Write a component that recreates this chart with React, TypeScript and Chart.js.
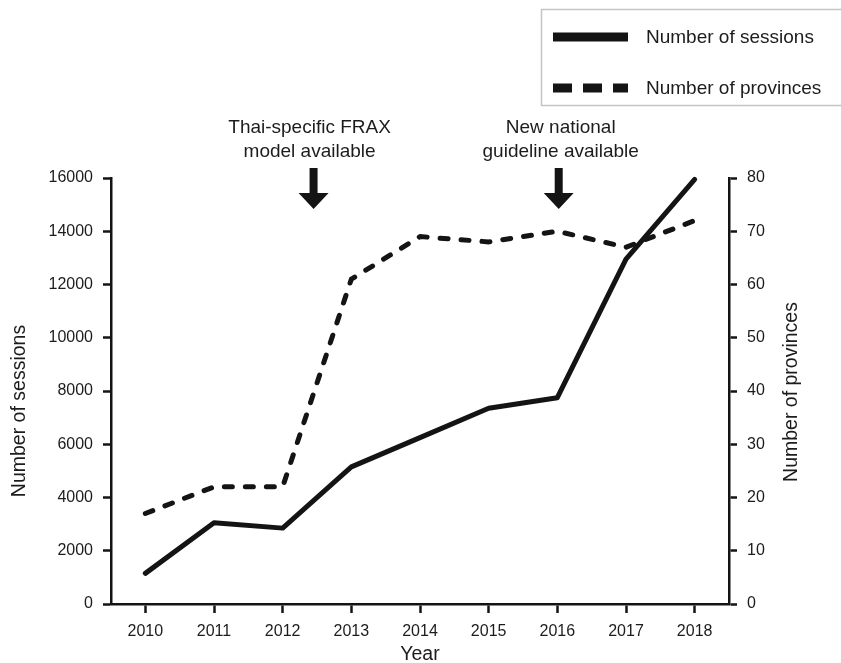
import React, { useEffect, useRef } from "react";
import { Chart, registerables } from "chart.js";

Chart.register(...registerables);

const years = ["2010", "2011", "2012", "2013", "2014", "2015", "2016", "2017", "2018"];
const sessions = [1150, 3050, 2850, 5150, 6250, 7350, 7750, 12950, 15950];
const provinces = [17, 22, 22, 61, 69, 68, 70, 67, 72];

const sessionsLabel = "Number of sessions";
const provincesLabel = "Number of provinces";
const xTitle = "Year";

// annotations: position along the category axis (index), text lines
const annotationPos = [2.45, 6.02];
const annotationText = [
  ["Thai-specific FRAX", "model available"],
  ["New national", "guideline available"],
];

const FONT = "'Liberation Sans', Arial, Helvetica, sans-serif";
const INK = "#141414";
const TEXT = "#1c1c1c";
const W = 841;
const H = 663;

const customPlugin = {
  id: "customDecor",
  afterDraw(chart: any) {
    const ctx = chart.ctx as CanvasRenderingContext2D;
    const x = chart.scales.x;
    const area = chart.chartArea;
    ctx.save();

    // Legend box
    ctx.strokeStyle = "#c4c4c4";
    ctx.lineWidth = 1.5;
    ctx.strokeRect(541.5, 9.5, 400, 96);
    const legendItems = [
      { label: sessionsLabel, dash: [] as number[], y: 37 },
      { label: provincesLabel, dash: [19, 11], y: 88 },
    ];
    legendItems.forEach((it) => {
      ctx.beginPath();
      ctx.setLineDash(it.dash);
      ctx.lineCap = "butt";
      ctx.strokeStyle = INK;
      ctx.lineWidth = 9;
      ctx.moveTo(553, it.y);
      ctx.lineTo(628, it.y);
      ctx.stroke();
      ctx.setLineDash([]);
      ctx.fillStyle = TEXT;
      ctx.font = `19px ${FONT}`;
      ctx.textAlign = "left";
      ctx.textBaseline = "middle";
      ctx.fillText(it.label, 646, it.y + 1);
    });

    // Annotations with arrows
    annotationPos.forEach((pos, i) => {
      const i0 = Math.floor(pos);
      const f = pos - i0;
      const px = x.getPixelForValue(i0) + f * (x.getPixelForValue(i0 + 1) - x.getPixelForValue(i0));
      ctx.fillStyle = TEXT;
      ctx.font = `19px ${FONT}`;
      ctx.textAlign = "center";
      ctx.textBaseline = "middle";
      annotationText[i].forEach((line, j) => {
        ctx.fillText(line, px + (i === 0 ? -4 : 2), 128 + j * 24);
      });
      ctx.fillStyle = INK;
      ctx.beginPath();
      ctx.moveTo(px - 4, 168);
      ctx.lineTo(px + 4, 168);
      ctx.lineTo(px + 4, 193);
      ctx.lineTo(px + 15, 193);
      ctx.lineTo(px, 209);
      ctx.lineTo(px - 15, 193);
      ctx.lineTo(px - 4, 193);
      ctx.closePath();
      ctx.fill();
    });

    // Axis titles
    ctx.fillStyle = TEXT;
    ctx.font = `19.5px ${FONT}`;
    ctx.textAlign = "center";
    ctx.textBaseline = "middle";
    ctx.fillText(xTitle, (area.left + area.right) / 2, 655);

    ctx.save();
    ctx.translate(20, 411);
    ctx.rotate(-Math.PI / 2);
    ctx.fillText(sessionsLabel, 0, 0);
    ctx.restore();

    ctx.save();
    ctx.translate(792, 392);
    ctx.rotate(-Math.PI / 2);
    ctx.fillText(provincesLabel, 0, 0);
    ctx.restore();

    ctx.restore();
  },
};

export default function App() {
  const ref = useRef<HTMLCanvasElement | null>(null);

  useEffect(() => {
    if (!ref.current) return;
    const axisColor = INK;
    const tickFont = { family: FONT, size: 16 };
    const plain = (v: any) => String(v);
    const chart = new Chart(ref.current, {
      type: "line",
      data: {
        labels: years,
        datasets: [
          {
            label: sessionsLabel,
            data: sessions,
            yAxisID: "y",
            borderColor: INK,
            borderWidth: 5,
            pointRadius: 0,
            tension: 0,
            borderCapStyle: "round",
            borderJoinStyle: "round",
            clip: false as any,
          },
          {
            label: provincesLabel,
            data: provinces,
            yAxisID: "y1",
            borderColor: INK,
            borderWidth: 5,
            borderDash: [8, 13],
            borderCapStyle: "round",
            borderJoinStyle: "round",
            pointRadius: 0,
            tension: 0,
            clip: false as any,
          },
        ],
      },
      options: {
        responsive: false,
        animation: false,
        devicePixelRatio: 1,
        layout: { padding: { top: 178, left: 0, right: 0, bottom: 0 } },
        plugins: {
          legend: { display: false },
          tooltip: { enabled: false },
          title: { display: false },
        },
        scales: {
          x: {
            type: "category",
            offset: true,
            grid: {
              display: true,
              drawOnChartArea: false,
              drawTicks: true,
              tickLength: 9,
              tickWidth: 2.5,
              tickColor: axisColor,
              offset: false,
            },
            border: { display: true, color: axisColor, width: 2.5 },
            ticks: { color: TEXT, font: tickFont, padding: 9, maxRotation: 0 },
            afterFit: (s: any) => {
              s.height = 59;
            },
          },
          y: {
            type: "linear",
            position: "left",
            min: 0,
            max: 16000,
            grid: {
              display: true,
              drawOnChartArea: false,
              drawTicks: true,
              tickLength: 8,
              tickWidth: 2.5,
              tickColor: axisColor,
            },
            border: { display: true, color: axisColor, width: 2.5 },
            ticks: { stepSize: 2000, color: TEXT, font: tickFont, padding: 10, callback: plain },
            afterFit: (s: any) => {
              s.width = 111;
            },
          },
          y1: {
            type: "linear",
            position: "right",
            min: 0,
            max: 80,
            grid: {
              display: true,
              drawOnChartArea: false,
              drawTicks: true,
              tickLength: 8,
              tickWidth: 2.5,
              tickColor: axisColor,
            },
            border: { display: true, color: axisColor, width: 2.5 },
            ticks: { stepSize: 10, color: TEXT, font: tickFont, padding: 10, callback: plain },
            afterFit: (s: any) => {
              s.width = 112;
            },
          },
        },
      },
      plugins: [customPlugin],
    });
    return () => chart.destroy();
  }, []);

  return (
    <div style={{ height: 0 }}>
      <div style={{ position: "absolute", left: 0, top: 0, width: W, height: H }}>
        <canvas ref={ref} width={W} height={H} style={{ display: "block" }} />
      </div>
    </div>
  );
}
